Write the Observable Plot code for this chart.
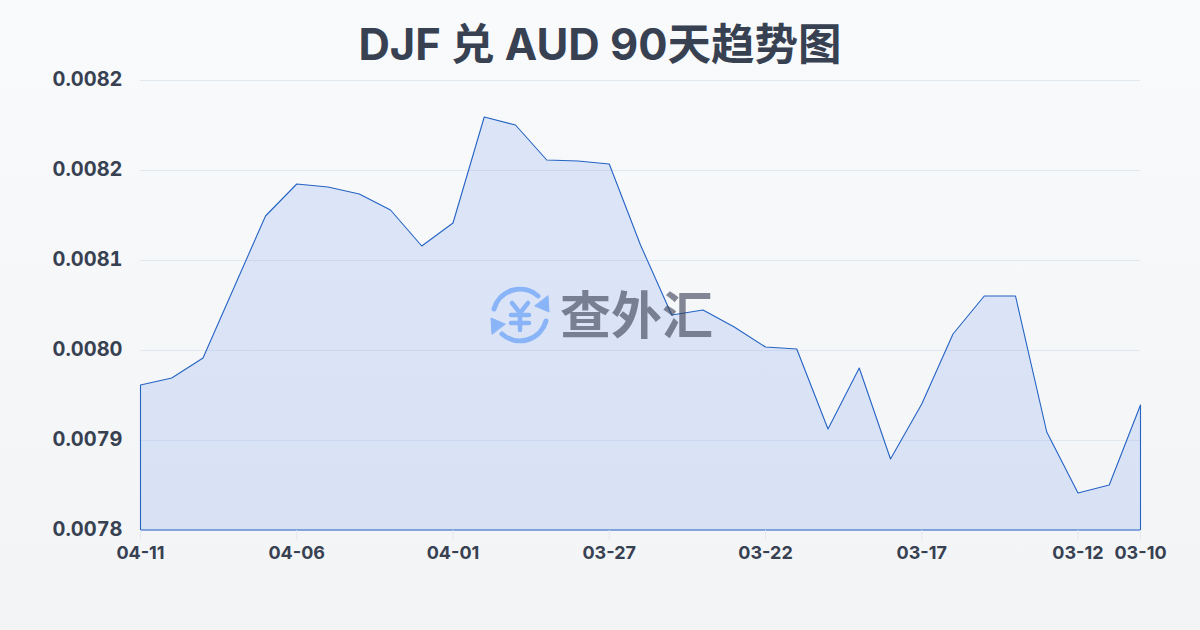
<!DOCTYPE html>
<html lang="zh">
<head>
<meta charset="utf-8">
<script src="https://cdn.jsdelivr.net/npm/d3@7"></script>
<script src="https://cdn.jsdelivr.net/npm/@observablehq/plot@0.6"></script>
<style>
  html, body { margin: 0; padding: 0; }
  body {
    width: 1200px; height: 630px; overflow: hidden; position: relative;
    background: linear-gradient(180deg, #f8fafc 0%, #f3f4f6 100%);
    font-family: Inter, "Noto Sans CJK SC", sans-serif;
  }
  h1 {
    margin: 0; height: 60px; line-height: 88px; text-align: center;
    font-size: 43.5px; font-weight: 700; color: #374151;
  }
  #chart { position: absolute; left: 0; top: 60px; }
  #chart svg { background: transparent; display: block; }
  #wm { position: absolute; left: 488px; top: 283px; width: 64px; height: 64px; }
  #wmt {
    position: absolute; left: 560px; top: 281px; font-size: 51px; line-height: 70px;
    font-weight: 700; color: rgba(60, 65, 85, .62); white-space: nowrap;
  }
</style>
</head>
<body>
<h1>DJF 兑 AUD 90天趋势图</h1>
<div id="chart"></div>
<svg id="wm" viewBox="0 0 64 64" fill="none" stroke="#8ab4f8" stroke-linecap="round" stroke-linejoin="round">
  <path d="M6 26 A27 27 0 0 1 50 13" stroke-width="5"/>
  <path d="M58 38 A27 27 0 0 1 14 51" stroke-width="5"/>
  <path d="M60 13 L61 29 L47 23 Z" fill="#8ab4f8" stroke-width="1"/>
  <path d="M4 51 L3 35 L17 41 Z" fill="#8ab4f8" stroke-width="1"/>
  <path d="M24 20 L32 30 L40 20 M23 32 H41 M23 40 H41 M32 30 V47" stroke-width="4.5"/>
</svg>
<div id="wmt">查外汇</div>
<script>
const dates = ["04-11","04-10","04-09","04-08","04-07","04-06","04-05","04-04","04-03","04-02","04-01",
  "03-31","03-30","03-29","03-28","03-27","03-26","03-25","03-24","03-23","03-22",
  "03-21","03-20","03-19","03-18","03-17","03-16","03-15","03-14","03-13","03-12","03-11","03-10"];
const rates = [0.007945,0.007952,0.007972,0.008043,0.008114,0.008146,0.008143,0.008136,0.008120,0.008084,0.008107,
  0.008213,0.008205,0.008170,0.008169,0.008166,0.008085,0.008015,0.008020,0.008003,0.007983,
  0.007981,0.007901,0.007962,0.007871,0.007926,0.007996,0.008034,0.008034,0.007898,0.007837,0.007845,0.007925];
const xTicks = ["04-11","04-06","04-01","03-27","03-22","03-17","03-12","03-10"];
const yTicks = [0.0078,0.00789,0.00798,0.00807,0.00816,0.00825];
const yLabels = ["0.0078","0.0079","0.0080","0.0081","0.0082","0.0082"];
const baseline = 0.0078;

const table = dates.map((d, i) => ({date: d, rate: rates[i]}));

const plot = Plot.plot({
  width: 1200, height: 570,
  marginLeft: 140, marginRight: 60, marginTop: 20, marginBottom: 100,
  style: {background: "transparent", fontFamily: 'Inter, "Noto Sans CJK SC", sans-serif'},
  x: {type: "point", domain: dates, padding: 0, round: false, label: null},
  y: {domain: [baseline, 0.00825], label: null},
  marks: [
    Plot.gridY(yTicks, {stroke: "#e2e8f0", strokeOpacity: 1, strokeWidth: 1}),
    Plot.areaY(table, {x: "date", y1: () => baseline, y2: "rate", fill: "#2563eb", fillOpacity: 0.13, stroke: "#2563c4", strokeWidth: 1.1, curve: "linear", dx: 0.5}),
    Plot.axisX({ticks: xTicks, tickSize: 10, tickPadding: 6, stroke: "#e2e8f0", strokeOpacity: 1, fontSize: 18, fontWeight: 700, fill: "#374151", label: null, anchor: "bottom"}),
    Plot.axisY({ticks: yTicks, tickSize: 0, tickPadding: 18, tickFormat: v => yLabels[yTicks.indexOf(v)], fontSize: 20, fontWeight: 700, fill: "#374151", label: null, anchor: "left", dy: -1})
  ]
});
document.getElementById("chart").appendChild(plot);
</script>
</body>
</html>
